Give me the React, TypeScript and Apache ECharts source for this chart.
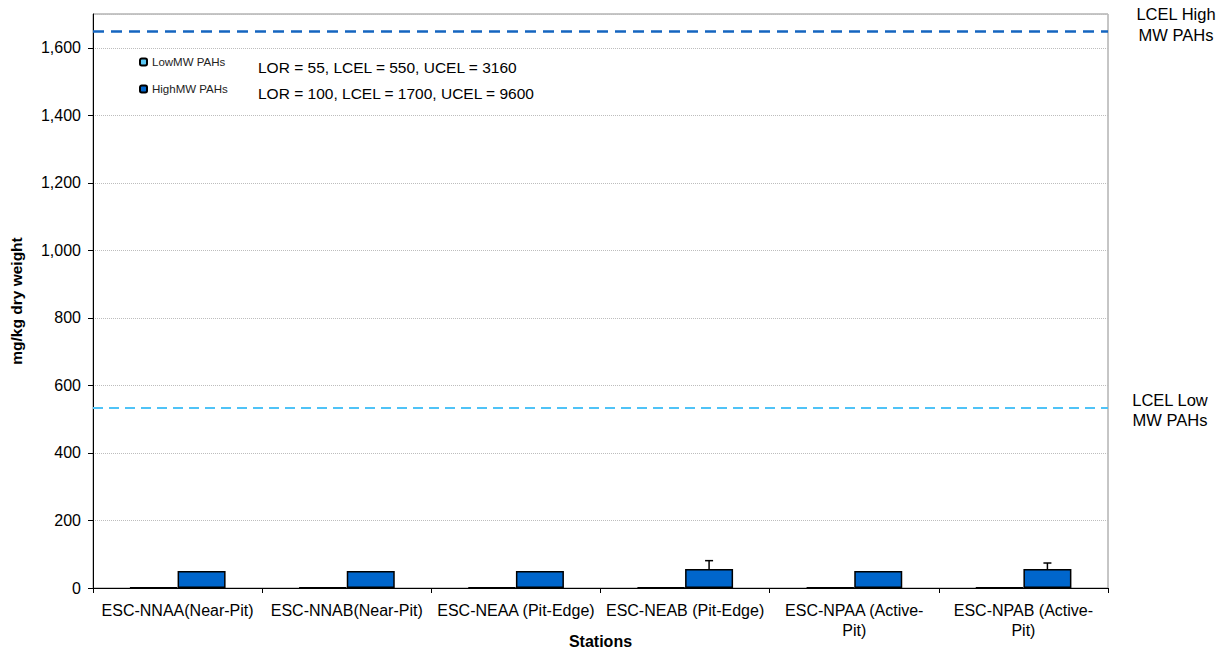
import React, { useEffect, useRef } from "react";
import * as echarts from "echarts";

const stations = [
  "ESC-NNAA(Near-Pit)",
  "ESC-NNAB(Near-Pit)",
  "ESC-NEAA (Pit-Edge)",
  "ESC-NEAB (Pit-Edge)",
  "ESC-NPAA (Active-Pit)",
  "ESC-NPAB (Active-Pit)",
];
const lowMW = [2, 2, 2, 2, 2, 2];
const highMW = [50, 50, 50, 56, 50, 56];
const highMWErr = [0, 0, 0, 25, 0, 18];
const lcelHigh = 1650;
const lcelLow = 535;
const yTicks = { min: 0, max: 1700, interval: 200 };

const FONT = "Arial, 'Liberation Sans', sans-serif";

export default function App() {
  const ref = useRef<HTMLDivElement>(null);
  useEffect(() => {
    if (!ref.current) return;
    const chart = echarts.init(ref.current, undefined, { renderer: "svg" });
    const errData = highMW.map((v, i) => [i, v, v + highMWErr[i]]);
    chart.setOption({
      animation: false,
      backgroundColor: "#ffffff",
      textStyle: { fontFamily: FONT },
      grid: {
        left: 93,
        right: 116,
        top: 14,
        bottom: 65,
        outerBoundsMode: "none",
        containLabel: false,
        show: true,
        borderColor: "#8c8c8c",
        borderWidth: 1,
      },
      legend: {
        data: ["LowMW PAHs", "HighMW PAHs"],
        orient: "vertical",
        left: 134,
        top: 51,
        itemWidth: 7,
        itemHeight: 7,
        itemGap: 15,
        textStyle: { fontSize: 11.5, color: "#222", fontFamily: FONT },
      },
      xAxis: {
        type: "category",
        data: stations,
        name: "Stations",
        nameLocation: "middle",
        nameGap: 45,
        nameMoveOverlap: false,
        nameTextStyle: { fontSize: 16, fontWeight: "bold", color: "#000" },
        axisLine: { lineStyle: { color: "#000", width: 1 } },
        axisTick: { show: true, length: 5, lineStyle: { color: "#000" } },
        axisLabel: {
          interval: 0,
          fontSize: 16,
          color: "#000",
          margin: 12,
          lineHeight: 20,
          formatter: (s: string) => s.replace("(Active-Pit)", "(Active-\nPit)"),
        },
      },
      yAxis: {
        type: "value",
        min: yTicks.min,
        max: yTicks.max,
        interval: yTicks.interval,
        name: "mg/kg dry weight",
        nameLocation: "middle",
        nameGap: 69,
        nameMoveOverlap: false,
        nameTextStyle: { fontSize: 15.5, fontWeight: "bold", color: "#000" },
        axisLine: { show: true, lineStyle: { color: "#000", width: 1 } },
        axisTick: { show: true, length: 5, lineStyle: { color: "#000" } },
        axisLabel: {
          fontSize: 16,
          color: "#000",
          margin: 12,
          showMaxLabel: false,
          formatter: (v: number) => v.toLocaleString("en-US"),
        },
        splitLine: { lineStyle: { color: "#bdbdbd", type: "dotted" } },
      },
      series: [
        {
          name: "LowMW PAHs",
          type: "bar",
          data: lowMW,
          barWidth: 48,
          barGap: "0%",
          itemStyle: { color: "#5BC8F5", borderColor: "#000", borderWidth: 1.5 },
          markLine: {
            silent: true,
            symbol: "none",
            label: { show: false },
            lineStyle: { color: "#4FC3F7", type: [10, 6], width: 2 },
            data: [{ yAxis: lcelLow }],
          },
        },
        {
          name: "HighMW PAHs",
          type: "bar",
          data: highMW,
          barWidth: 48,
          barGap: "0%",
          itemStyle: { color: "#0066CC", borderColor: "#000", borderWidth: 1.5 },
          markLine: {
            silent: true,
            symbol: "none",
            label: { show: false },
            lineStyle: { color: "#1565C0", type: [11, 7], width: 2.5 },
            data: [{ yAxis: lcelHigh }],
          },
        },
        {
          name: "err",
          type: "custom",
          data: errData,
          z: 5,
          renderItem: (params: any, api: any) => {
            const i = api.value(0);
            const lo = api.coord([i, api.value(1)]);
            const hi = api.coord([i, api.value(2)]);
            if (api.value(2) <= api.value(1)) return null;
            const x = lo[0] + 24;
            return {
              type: "group",
              children: [
                {
                  type: "line",
                  shape: { x1: x, y1: lo[1], x2: x, y2: hi[1] },
                  style: { stroke: "#000", lineWidth: 1.5 },
                },
                {
                  type: "line",
                  shape: { x1: x - 4, y1: hi[1], x2: x + 4, y2: hi[1] },
                  style: { stroke: "#000", lineWidth: 1.5 },
                },
              ],
            };
          },
        },
      ],
      graphic: [
        {
          type: "text",
          left: 258,
          top: 59,
          style: { text: "LOR = 55, LCEL = 550, UCEL = 3160", fontSize: 15.5, fill: "#000", fontFamily: FONT },
        },
        {
          type: "text",
          left: 258,
          top: 85,
          style: { text: "LOR = 100, LCEL = 1700, UCEL = 9600", fontSize: 15.5, fill: "#000", fontFamily: FONT },
        },
        {
          type: "text",
          x: 1176,
          y: 3,
          style: { text: "LCEL High\nMW PAHs", fontSize: 16.5, fill: "#000", align: "center", lineHeight: 21, fontFamily: FONT },
        },
        {
          type: "text",
          x: 1170,
          y: 390,
          style: { text: "LCEL Low\nMW PAHs", fontSize: 16.5, fill: "#000", align: "center", lineHeight: 20, fontFamily: FONT },
        },
      ],
    });
    return () => chart.dispose();
  }, []);
  return (
    <div
      ref={ref}
      style={{ position: "fixed", left: 0, top: 0, width: 1224, height: 653 }}
    />
  );
}
